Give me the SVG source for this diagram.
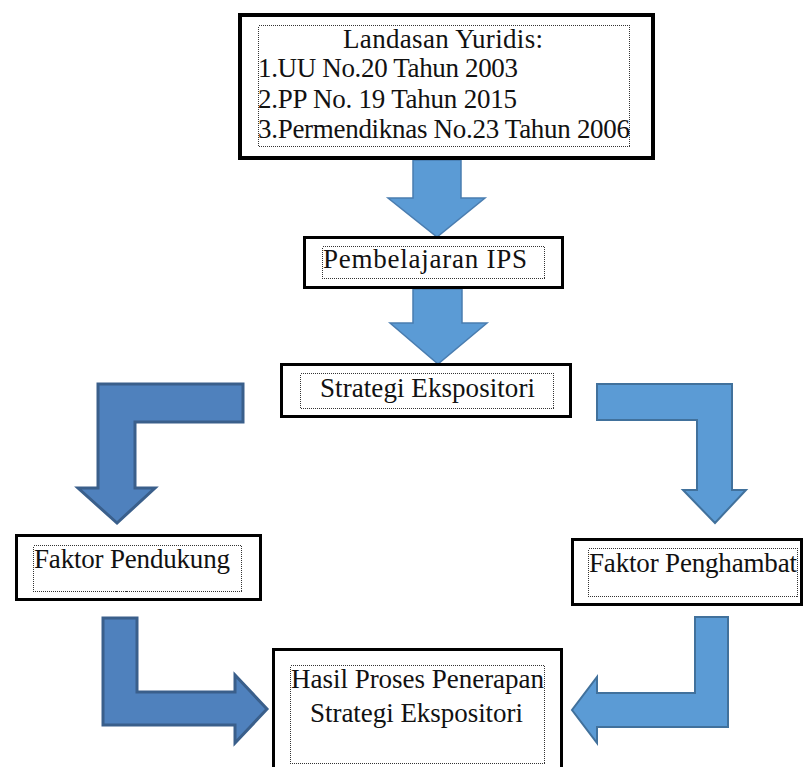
<svg xmlns="http://www.w3.org/2000/svg" width="805" height="767" viewBox="0 0 805 767">
<style>
.box{fill:#fff;stroke:#000;stroke-width:3}
.inner{fill:none;stroke:#333;stroke-width:1;stroke-dasharray:1 1;shape-rendering:crispEdges}
.t{font-family:"Liberation Serif","Times New Roman",serif;font-size:27px;fill:#111}
.a1{fill:#5B9BD5;stroke:#4A7DB0;stroke-width:1.5}
.a2{fill:#4F81BD;stroke:#3A5F8B;stroke-width:3}
.a3{fill:#5B9BD5;stroke:#41719C;stroke-width:2}
</style>
<rect width="805" height="767" fill="#fff"/>
<g id="connectors">
<polygon class="a1" points="413,160 461,160 461,198 485,198 437,237 388,198 413,198"/>
<polygon class="a1" points="413,289 462,289 462,323 487,323 438,364 390,323 413,323"/>
<polygon class="a2" points="243,384 98,384 98,488 78,488 117,523 155,488 135,488 135,422 243,422"/>
<polygon class="a3" points="597,384 732,384 732,490 746,490 715,523 683,490 697,490 697,420 597,420"/>
<polygon class="a2" points="103,618 137,618 137,692 235,692 235,675 267,709 235,743 235,725 103,725"/>
<polygon class="a3" points="728,617 695,617 695,693 597,693 597,677 572,710 597,743 597,727 728,727"/>
</g>
<g id="landasan">
<rect class="box" x="240" y="15" width="413" height="143" style="stroke-width:4"/>
<rect class="inner" x="258.5" y="25.5" width="371" height="121"/>
<text class="t" x="443" y="48" text-anchor="middle" textLength="200" lengthAdjust="spacing">Landasan Yuridis:</text>
<text class="t" x="258" y="77" textLength="260" lengthAdjust="spacing">1.UU No.20 Tahun 2003</text>
<text class="t" x="258" y="108" textLength="259" lengthAdjust="spacing">2.PP No. 19 Tahun 2015</text>
<text class="t" x="258" y="138" textLength="372" lengthAdjust="spacing">3.Permendiknas No.23 Tahun 2006</text>
</g>
<g id="pembelajaran">
<rect class="box" x="304.5" y="237.5" width="258" height="50"/>
<rect class="inner" x="322.5" y="246.5" width="222" height="32"/>
<text class="t" x="323" y="268" textLength="204" lengthAdjust="spacing">Pembelajaran IPS</text>
</g>
<g id="strategi">
<rect class="box" x="281.5" y="364.5" width="289" height="52"/>
<rect class="inner" x="300.5" y="373.5" width="253" height="35"/>
<text class="t" x="320" y="397" textLength="215" lengthAdjust="spacing">Strategi Ekspositori</text>
</g>
<g id="pendukung">
<rect class="box" x="16.5" y="535.5" width="244" height="64"/>
<rect class="inner" x="33.5" y="545.5" width="208" height="46"/>
<text class="t" x="34" y="568" textLength="196" lengthAdjust="spacing">Faktor Pendukung</text>
</g>
<g id="penghambat">
<rect class="box" x="572.5" y="539.5" width="229" height="65"/>
<rect class="inner" x="588.5" y="548.5" width="209" height="48"/>
<text class="t" x="589" y="572" textLength="208" lengthAdjust="spacing">Faktor Penghambat</text>
</g>
<g id="hasil">
<rect class="box" x="273.5" y="649.5" width="288" height="130"/>
<rect class="inner" x="290.5" y="665.5" width="254" height="98"/>
<text class="t" x="291" y="688" textLength="253" lengthAdjust="spacing">Hasil Proses Penerapan</text>
<text class="t" x="310" y="722" textLength="213" lengthAdjust="spacing">Strategi Ekspositori</text>
</g>
</svg>
